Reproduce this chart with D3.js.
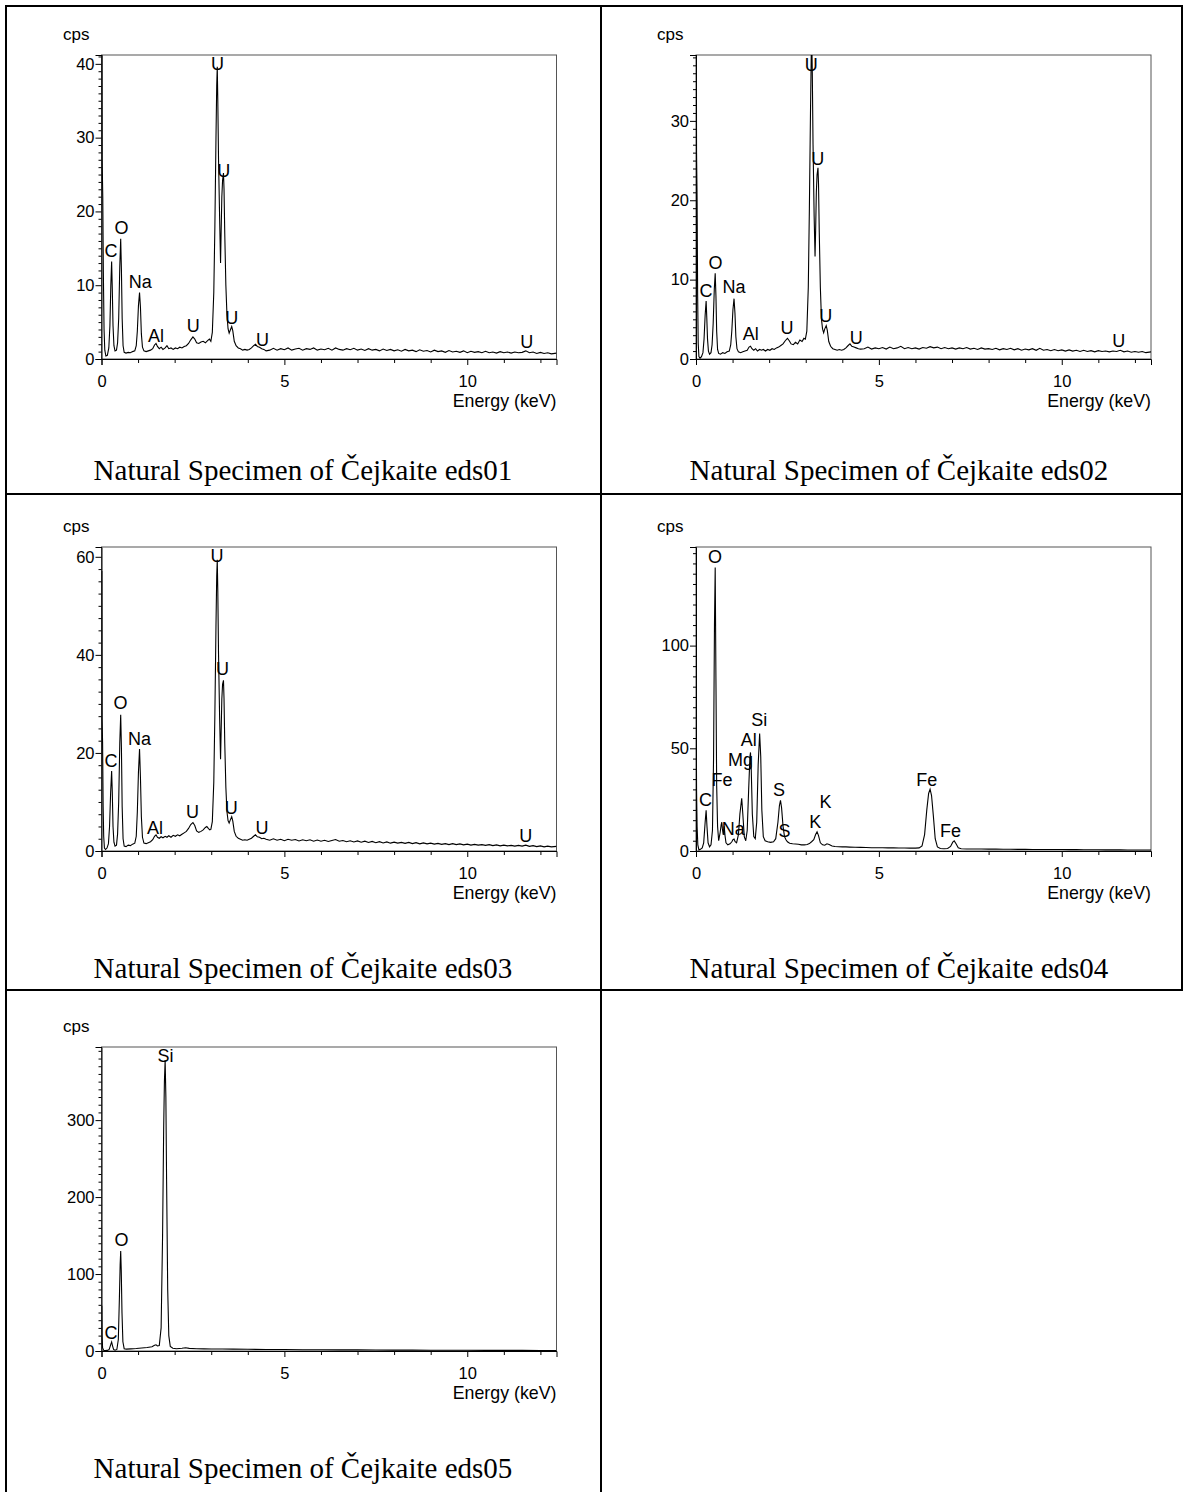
<!DOCTYPE html>
<html><head><meta charset="utf-8">
<script src="https://cdn.jsdelivr.net/npm/d3@7/dist/d3.min.js"></script>
<style>
html,body{margin:0;padding:0;background:#fff;}
svg{display:block;}
</style></head>
<body>
<script>
// ---------------- DATA ----------------
const energyMax = 12.44;
const xTicks = [0, 5, 10];
const panelTitles = ["Natural Specimen of Čejkaite eds01","Natural Specimen of Čejkaite eds02","Natural Specimen of Čejkaite eds03","Natural Specimen of Čejkaite eds04","Natural Specimen of Čejkaite eds05"];
const yMaxes = [41.2, 38.3, 62, 148, 395];
const yTicks = [[0,10,20,30,40],[0,10,20,30],[0,20,40,60],[0,50,100],[0,100,200,300]];
const yMinorSteps = [1, 1, 2.5, 5, 10];

const eds01 = [[0,45],[0.01,45],[0.018,27],[0.035,22],[0.05,12],[0.07,4],[0.09,1.2],[0.12,0.4],[0.16,0.5],[0.2,1.5],[0.23,4.5],[0.255,10],[0.277,13.2],[0.295,9.5],[0.315,4.5],[0.34,1.8],[0.37,1.1],[0.41,1.2],[0.44,2.2],[0.47,5.5],[0.5,12.5],[0.525,16.3],[0.545,12],[0.565,5.5],[0.59,1.8],[0.62,0.9],[0.67,0.8],[0.73,0.9],[0.79,0.85],[0.85,1.0],[0.91,1.1],[0.95,1.8],[0.98,3.8],[1.01,7.2],[1.04,9.0],[1.065,7.0],[1.09,3.4],[1.12,1.6],[1.16,1.1],[1.22,1.0],[1.28,1.1],[1.34,1.2],[1.4,1.4],[1.45,1.9],[1.49,2.1],[1.53,1.7],[1.58,1.4],[1.63,1.6],[1.68,1.3],[1.74,1.5],[1.79,1.8],[1.84,1.4],[1.9,1.5],[1.96,1.3],[2.02,1.5],[2.08,1.4],[2.14,1.6],[2.2,1.5],[2.26,1.7],[2.32,1.8],[2.38,2.1],[2.44,2.6],[2.5,3.0],[2.55,2.7],[2.6,2.2],[2.66,2.1],[2.72,2.3],[2.78,2.4],[2.84,2.2],[2.9,2.5],[2.95,2.7],[2.99,2.4],[3.03,3.6],[3.07,9],[3.1,18],[3.13,30],[3.15,37],[3.165,39.6],[3.18,35],[3.2,27],[3.23,19],[3.255,13],[3.27,17],[3.29,22],[3.31,24.2],[3.335,25.2],[3.35,23],[3.37,17],[3.4,10],[3.43,6],[3.46,4.1],[3.49,3.5],[3.52,3.9],[3.56,4.4],[3.59,3.8],[3.63,2.4],[3.68,1.8],[3.74,1.5],[3.8,1.4],[3.86,1.2],[3.92,1.3],[3.98,1.2],[4.04,1.3],[4.1,1.5],[4.16,1.8],[4.21,2.0],[4.26,1.7],[4.32,1.6],[4.38,1.4],[4.44,1.3],[4.5,1.1],
[4.6,1.2],[4.7,1.45],[4.8,1.2],[4.9,1.4],[5.0,1.25],[5.1,1.5],[5.2,1.2],[5.3,1.35],[5.4,1.45],[5.5,1.2],[5.6,1.4],[5.7,1.3],[5.8,1.5],[5.9,1.2],[6.0,1.35],[6.1,1.25],[6.2,1.45],[6.3,1.2],[6.4,1.5],[6.5,1.3],[6.6,1.2],[6.7,1.4],[6.8,1.25],[6.9,1.45],[7.0,1.2],[7.1,1.35],[7.2,1.15],[7.3,1.4],[7.4,1.2],[7.5,1.3],[7.6,1.1],[7.7,1.35],[7.8,1.15],[7.9,1.3],[8.0,1.1],[8.1,1.25],[8.2,1.05],[8.3,1.3],[8.4,1.1],[8.5,1.2],[8.6,1.0],[8.7,1.25],[8.8,1.05],[8.9,1.15],[9.0,0.95],[9.1,1.2],[9.2,1.0],[9.3,1.1],[9.4,0.9],[9.5,1.15],[9.6,0.95],[9.7,1.05],[9.8,0.9],[9.9,1.1],[10.0,0.85],[10.1,1.05],[10.2,0.9],[10.3,1.0],[10.4,0.85],[10.5,1.05],[10.6,0.85],[10.7,0.95],[10.8,0.8],[10.9,1.0],[11.0,0.85],[11.1,0.95],[11.2,0.8],[11.3,0.95],[11.4,0.85],[11.5,0.9],[11.6,1.1],[11.7,0.85],[11.8,0.95],[11.9,0.75],[12.0,0.9],[12.1,0.75],[12.2,0.85],[12.3,0.7],[12.44,0.8]];

const eds02 = [[0,45],[0.008,45],[0.015,26],[0.03,20],[0.045,8],[0.06,2],[0.08,0.3],[0.11,0.1],[0.15,0.3],[0.19,0.8],[0.22,2.5],[0.25,5.5],[0.277,7.3],[0.295,5.2],[0.315,2.5],[0.34,1.0],[0.37,0.6],[0.41,0.8],[0.44,1.8],[0.47,4.5],[0.5,8.8],[0.525,10.8],[0.545,8],[0.565,3.5],[0.59,1.2],[0.62,0.7],[0.67,0.6],[0.73,0.8],[0.79,0.7],[0.85,0.9],[0.91,1.0],[0.95,1.8],[0.98,3.6],[1.01,6.2],[1.04,7.6],[1.065,5.8],[1.09,2.8],[1.12,1.3],[1.16,0.9],[1.22,0.8],[1.28,0.9],[1.34,1.0],[1.4,1.1],[1.45,1.5],[1.49,1.6],[1.53,1.3],[1.58,1.1],[1.63,1.3],[1.68,1.0],[1.74,1.2],[1.79,1.1],[1.84,1.2],[1.9,1.0],[1.96,1.2],[2.02,1.1],[2.08,1.3],[2.14,1.2],[2.2,1.4],[2.26,1.5],[2.32,1.7],[2.38,1.9],[2.44,2.3],[2.5,2.6],[2.55,2.3],[2.6,1.9],[2.66,1.8],[2.72,2.1],[2.78,1.9],[2.84,2.4],[2.9,2.2],[2.95,2.6],[2.99,2.5],[3.03,3.5],[3.07,9],[3.1,19],[3.13,31],[3.15,38],[3.165,40],[3.18,36],[3.2,27],[3.23,18],[3.255,12.9],[3.27,16],[3.29,21],[3.31,23.2],[3.335,24.1],[3.35,22],[3.37,16],[3.4,9],[3.43,5],[3.46,3.8],[3.49,3.3],[3.52,3.8],[3.56,4.2],[3.59,3.6],[3.63,2.2],[3.68,1.6],[3.74,1.3],[3.8,1.2],[3.86,1.1],[3.92,1.2],[3.98,1.1],[4.04,1.2],[4.1,1.4],[4.16,1.7],[4.21,1.9],[4.26,1.6],[4.32,1.5],[4.38,1.4],[4.44,1.3],[4.5,1.25],
[4.6,1.3],[4.7,1.5],[4.8,1.25],[4.9,1.4],[5.0,1.3],[5.1,1.45],[5.2,1.25],[5.3,1.5],[5.4,1.3],[5.5,1.4],[5.6,1.6],[5.7,1.3],[5.8,1.45],[5.9,1.3],[6.0,1.4],[6.1,1.25],[6.2,1.45],[6.3,1.35],[6.4,1.55],[6.5,1.4],[6.6,1.5],[6.7,1.3],[6.8,1.45],[6.9,1.3],[7.0,1.4],[7.1,1.25],[7.2,1.4],[7.3,1.3],[7.4,1.45],[7.5,1.25],[7.6,1.35],[7.7,1.2],[7.8,1.4],[7.9,1.25],[8.0,1.3],[8.1,1.2],[8.2,1.35],[8.3,1.15],[8.4,1.3],[8.5,1.2],[8.6,1.35],[8.7,1.15],[8.8,1.3],[8.9,1.1],[9.0,1.25],[9.1,1.15],[9.2,1.3],[9.3,1.1],[9.4,1.35],[9.5,1.1],[9.6,1.2],[9.7,1.05],[9.8,1.2],[9.9,1.05],[10.0,1.15],[10.1,1.0],[10.2,1.15],[10.3,1.0],[10.4,1.1],[10.5,0.95],[10.6,1.1],[10.7,0.95],[10.8,1.05],[10.9,0.9],[11.0,1.05],[11.1,0.95],[11.2,1.0],[11.3,0.9],[11.4,1.0],[11.5,0.95],[11.6,1.1],[11.7,0.9],[11.8,1.0],[11.9,0.85],[12.0,0.95],[12.1,0.85],[12.2,0.95],[12.3,0.8],[12.44,0.9]];

const eds03 = [[0,57],[0.008,57],[0.015,27],[0.03,22],[0.045,9],[0.06,3],[0.08,0.6],[0.11,0.3],[0.15,0.6],[0.19,1.5],[0.22,5],[0.25,12],[0.277,16.3],[0.295,12],[0.315,5],[0.34,1.8],[0.37,1.0],[0.41,1.2],[0.44,3.5],[0.47,10],[0.5,22],[0.525,27.8],[0.545,21],[0.565,9],[0.59,2.5],[0.62,1.0],[0.67,0.9],[0.73,1.2],[0.79,1.1],[0.85,1.4],[0.91,1.6],[0.95,3],[0.98,8],[1.01,16],[1.04,20.8],[1.065,15],[1.09,7],[1.12,2.8],[1.16,1.6],[1.22,1.5],[1.28,1.7],[1.34,1.9],[1.4,2.3],[1.45,3.0],[1.49,3.3],[1.53,2.8],[1.58,2.6],[1.63,2.9],[1.68,2.7],[1.74,3.0],[1.79,2.8],[1.84,3.1],[1.9,2.8],[1.96,3.2],[2.02,3.0],[2.08,3.3],[2.14,3.1],[2.2,3.4],[2.26,3.7],[2.32,4.0],[2.38,4.6],[2.44,5.4],[2.5,5.8],[2.55,5.2],[2.6,4.1],[2.66,3.8],[2.72,4.0],[2.78,4.3],[2.84,4.8],[2.88,5.0],[2.92,4.6],[2.96,4.3],[2.99,4.4],[3.03,6],[3.07,14],[3.1,28],[3.13,46],[3.15,56],[3.165,59.4],[3.18,53],[3.2,40],[3.23,27],[3.255,18.7],[3.27,24],[3.29,31],[3.31,34],[3.335,34.8],[3.35,31],[3.37,22],[3.4,13],[3.43,8],[3.46,6.2],[3.49,5.7],[3.52,6.3],[3.56,7.0],[3.59,6.1],[3.63,4.0],[3.68,3.0],[3.74,2.6],[3.8,2.4],[3.86,2.2],[3.92,2.3],[3.98,2.2],[4.04,2.4],[4.1,2.6],[4.16,3.0],[4.21,3.3],[4.26,2.9],[4.32,2.8],[4.38,2.5],[4.44,2.6],[4.5,2.4],
[4.6,2.2],[4.7,2.5],[4.8,2.2],[4.9,2.4],[5.0,2.1],[5.1,2.4],[5.2,2.2],[5.3,2.35],[5.4,2.05],[5.5,2.3],[5.6,2.1],[5.7,2.3],[5.8,2.0],[5.9,2.25],[6.0,2.0],[6.1,2.2],[6.2,1.95],[6.3,2.15],[6.4,2.35],[6.5,2.0],[6.6,2.15],[6.7,1.9],[6.8,2.1],[6.9,1.85],[7.0,2.05],[7.1,1.8],[7.2,2.0],[7.3,1.75],[7.4,1.95],[7.5,1.7],[7.6,1.9],[7.7,1.65],[7.8,1.85],[7.9,1.6],[8.0,1.8],[8.1,1.6],[8.2,1.75],[8.3,1.55],[8.4,1.75],[8.5,1.5],[8.6,1.7],[8.7,1.45],[8.8,1.65],[8.9,1.45],[9.0,1.6],[9.1,1.4],[9.2,1.55],[9.3,1.35],[9.4,1.5],[9.5,1.3],[9.6,1.5],[9.7,1.3],[9.8,1.45],[9.9,1.25],[10.0,1.4],[10.1,1.2],[10.2,1.35],[10.3,1.2],[10.4,1.3],[10.5,1.15],[10.6,1.3],[10.7,1.1],[10.8,1.25],[10.9,1.05],[11.0,1.2],[11.1,1.05],[11.2,1.15],[11.3,1.0],[11.4,1.15],[11.5,1.0],[11.6,1.2],[11.7,0.95],[11.8,1.1],[11.9,0.9],[12.0,1.05],[12.1,0.85],[12.2,1.0],[12.3,0.85],[12.44,0.95]];

const eds04 = [[0,57],[0.008,57],[0.015,30],[0.03,12],[0.05,3],[0.08,0.5],[0.12,0.8],[0.17,1.5],[0.21,4],[0.25,14],[0.277,19.8],[0.3,12],[0.33,4],[0.37,2],[0.41,3],[0.45,10],[0.48,45],[0.505,110],[0.525,138],[0.545,84],[0.565,32],[0.59,12],[0.62,5],[0.66,9],[0.69,13],[0.705,14],[0.72,11],[0.745,8],[0.77,12],[0.79,8],[0.82,4],[0.87,3],[0.93,3.5],[0.98,4.5],[1.01,5.5],[1.04,5.8],[1.07,4.5],[1.11,4],[1.16,8],[1.2,18],[1.25,25.7],[1.28,18],[1.32,7],[1.36,5],[1.4,10],[1.44,30],[1.475,46],[1.49,48],[1.51,40],[1.54,18],[1.58,7],[1.62,6],[1.66,14],[1.7,42],[1.74,57.2],[1.77,46],[1.8,20],[1.84,7],[1.89,5],[1.96,4.5],[2.04,4.2],[2.12,4.5],[2.18,6],[2.24,14],[2.28,22],[2.31,24.7],[2.34,21],[2.38,12],[2.42,7],[2.46,5.5],[2.5,4.5],[2.56,3.8],[2.64,3.5],[2.72,3.4],[2.8,3.3],[2.88,3.0],[2.96,3.0],[3.04,3.2],[3.1,3.6],[3.16,4.5],[3.22,5.5],[3.27,8],[3.31,9.3],[3.35,7.5],[3.4,4],[3.46,3],[3.52,2.8],[3.58,3.5],[3.64,3.2],[3.72,2.4],[3.8,2.2],[3.9,2.1],[4.0,2.0],[4.1,2.0],[4.2,1.9],[4.35,1.8],[4.5,1.75],[4.65,1.7],[4.8,1.6],[4.95,1.6],[5.1,1.55],[5.25,1.5],[5.4,1.5],[5.55,1.45],[5.7,1.45],[5.85,1.4],[6.0,1.4],[6.1,1.5],[6.18,2.5],[6.25,8],[6.31,20],[6.36,28],[6.4,30.1],[6.44,27],[6.49,17],[6.54,6],[6.6,2],[6.68,1.2],[6.78,1.1],[6.88,1.2],[6.96,2.2],[7.02,4.3],[7.06,4.9],[7.11,3.5],[7.17,1.6],[7.25,1.1],[7.4,1.0],[7.6,1.0],[7.8,0.95],[8.0,0.9],[8.2,0.9],[8.4,0.85],[8.6,0.85],[8.8,0.8],[9.0,0.8],[9.2,0.75],[9.4,0.75],[9.6,0.7],[9.8,0.7],[10.0,0.7],[10.2,0.65],[10.4,0.65],[10.6,0.6],[10.8,0.6],[11.0,0.6],[11.2,0.55],[11.4,0.55],[11.6,0.55],[11.8,0.5],[12.0,0.5],[12.2,0.5],[12.44,0.5]];

const eds05 = [[0,58],[0.008,58],[0.015,20],[0.03,4],[0.06,1],[0.1,0.5],[0.16,0.8],[0.21,2],[0.25,8],[0.277,11.7],[0.3,7],[0.33,2],[0.37,1],[0.42,2],[0.46,15],[0.49,70],[0.51,112],[0.525,130],[0.54,105],[0.56,50],[0.585,12],[0.62,3],[0.68,2.5],[0.8,2.8],[0.95,3.2],[1.1,3.8],[1.25,4.5],[1.38,5.5],[1.45,7.5],[1.49,8],[1.53,6.5],[1.58,7],[1.63,30],[1.67,150],[1.7,290],[1.72,350],[1.74,378],[1.76,330],[1.78,220],[1.81,80],[1.84,20],[1.88,6],[1.95,3.5],[2.05,3],[2.2,3.5],[2.3,4.2],[2.4,3.4],[2.6,3],[2.8,2.8],[3.0,2.6],[3.3,2.6],[3.6,2.4],[4.0,2.2],[4.5,2.0],[5.0,1.9],[5.5,1.7],[6.0,1.6],[6.5,1.5],[7.0,1.4],[7.5,1.3],[8.0,1.2],[8.5,1.1],[9.0,1.0],[9.5,0.95],[10.0,0.9],[10.5,0.85],[11.0,0.8],[11.5,0.75],[12.0,0.7],[12.44,0.7]];

// peak labels: [element, energy (keV), cps at text baseline]
const eds01Labels = [["C",0.26,13.8],["O",0.55,16.9],["Na",1.06,9.6],["Al",1.49,2.3],["U",2.51,3.7],["U",3.17,39.1],["U",3.34,24.6],["U",3.56,4.7],["U",4.4,1.7],["U",11.63,1.5]];
const eds02Labels = [["C",0.27,7.8],["O",0.53,11.3],["Na",1.04,8.3],["Al",1.5,2.4],["U",2.49,3.1],["U",3.15,36.3],["U",3.33,24.5],["U",3.55,4.6],["U",4.38,1.9],["U",11.56,1.5]];
const eds03Labels = [["C",0.26,17.2],["O",0.52,29.0],["Na",1.04,21.7],["Al",1.46,3.4],["U",2.49,6.8],["U",3.16,59.0],["U",3.31,35.8],["U",3.55,7.5],["U",4.39,3.4],["U",11.6,1.8]];
const eds04Labels = [["O",0.52,140],["Si",1.73,61],["Al",1.44,51.2],["Mg",1.22,41.5],["Fe",0.71,31.7],["C",0.26,22],["Na",1.02,7.8],["S",2.27,26.8],["S",2.42,6.8],["K",3.54,21.1],["K",3.26,11],["Fe",6.31,31.7],["Fe",6.96,6.8]];
const eds05Labels = [["Si",1.75,375],["O",0.55,137],["C",0.26,15.2]];

const spectra = [eds01, eds02, eds03, eds04, eds05];
const labelSets = [eds01Labels, eds02Labels, eds03Labels, eds04Labels, eds05Labels];

// ---------------- LAYOUT ----------------
const W = 1188, H = 1492;
const colX = [6, 601, 1182];
const rowY = [6, 494, 990];
const plotLeft = [101.5, 696];
const plotW = 455, plotH = 304;
const plotTop = [55, 547, 1047];
const cpsX = [63, 657];
const titleX = [303, 899];
const titleY = [480, 978, 1478];
const SANS = "'Liberation Sans', Arial, sans-serif";
const SERIF = "'Liberation Serif', 'Times New Roman', serif";

const svg = d3.select("body").append("svg").attr("width", W).attr("height", H);

// table borders
const borders = [
  [colX[0], rowY[0], colX[2], rowY[0]],
  [colX[0], rowY[1], colX[2], rowY[1]],
  [colX[0], rowY[2], colX[2], rowY[2]],
  [colX[0], rowY[0], colX[0], H],
  [colX[1], rowY[0], colX[1], H],
  [colX[2], rowY[0], colX[2], rowY[2]]
];
svg.append("g").selectAll("line").data(borders).join("line")
  .attr("x1", d => d[0]).attr("y1", d => d[1]).attr("x2", d => d[2]).attr("y2", d => d[3])
  .attr("stroke", "#000").attr("stroke-width", 2).attr("stroke-linecap", "square");

spectra.forEach((data, i) => {
  const row = Math.floor(i / 2), col = i % 2;
  const left = plotLeft[col], top = plotTop[row], bottom = top + plotH, right = left + plotW;
  const x = d3.scaleLinear().domain([0, energyMax]).range([left, right]);
  const y = d3.scaleLinear().domain([0, yMaxes[i]]).range([bottom, top]);
  const g = svg.append("g");

  // frame
  g.append("rect").attr("x", left).attr("y", top).attr("width", plotW).attr("height", plotH)
    .attr("fill", "none").attr("stroke", "#555").attr("stroke-width", 1);

  // clip
  const cid = "clip" + i;
  g.append("clipPath").attr("id", cid).append("rect")
    .attr("x", left).attr("y", top).attr("width", plotW).attr("height", plotH);

  // spectrum
  g.append("path").datum(data)
    .attr("clip-path", `url(#${cid})`)
    .attr("d", d3.line().x(d => x(d[0])).y(d => y(d[1])))
    .attr("fill", "none").attr("stroke", "#000").attr("stroke-width", 1.1);

  // y axis major
  g.append("g").attr("transform", `translate(${left},0)`)
    .call(d3.axisLeft(y).tickValues(yTicks[i]).tickSize(6).tickPadding(1).tickFormat(d3.format("d")));
  // y minor
  const minor = d3.range(0, yMaxes[i] + 1e-9, yMinorSteps[i]).filter(v => !yTicks[i].includes(v));
  g.append("g").attr("transform", `translate(${left},0)`)
    .call(d3.axisLeft(y).tickValues(minor).tickSize(3).tickFormat(""))
    .call(a => a.select(".domain").remove());
  // x axis major
  g.append("g").attr("transform", `translate(0,${bottom})`)
    .call(d3.axisBottom(x).tickValues(xTicks).tickSize(6).tickPadding(10).tickFormat(d3.format("d")));
  const xminor = d3.range(1, energyMax, 1).filter(v => !xTicks.includes(v));
  g.append("g").attr("transform", `translate(0,${bottom})`)
    .call(d3.axisBottom(x).tickValues(xminor).tickSize(4).tickFormat(""))
    .call(a => a.select(".domain").remove());

  g.selectAll(".domain").attr("stroke", "#000");
  g.selectAll(".tick line").attr("stroke", "#000");
  g.selectAll(".tick text").attr("font-family", SANS).attr("font-size", 16.5).attr("fill", "#000");

  // axis captions
  g.append("text").attr("x", cpsX[col]).attr("y", top - 15)
    .attr("font-family", SANS).attr("font-size", 17).text("cps");
  g.append("text").attr("x", right).attr("y", bottom + 48).attr("text-anchor", "end")
    .attr("font-family", SANS).attr("font-size", 17.8).text("Energy (keV)");

  // peak labels
  g.selectAll("text.pk").data(labelSets[i]).join("text").attr("class", "pk")
    .attr("x", d => x(d[1])).attr("y", d => y(d[2])).attr("text-anchor", "middle")
    .attr("font-family", SANS).attr("font-size", 18).attr("fill", "#000").text(d => d[0]);

  // title
  svg.append("text").attr("x", titleX[col]).attr("y", titleY[row]).attr("text-anchor", "middle")
    .attr("font-family", SERIF).attr("font-size", 29).attr("fill", "#000").text(panelTitles[i]);
});
</script>
</body></html>
